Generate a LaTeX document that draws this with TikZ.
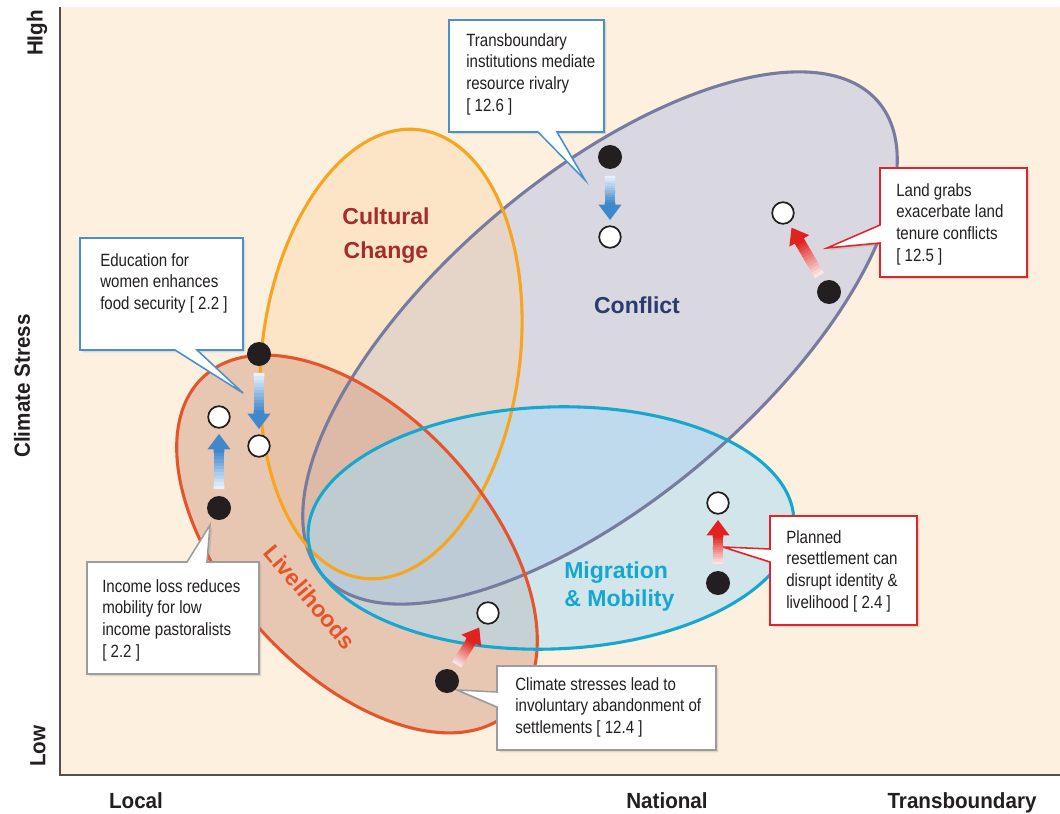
\documentclass[tikz,border=0pt]{standalone}
\usepackage{fontspec}
\setmainfont{Liberation Sans}
\newfontfamily\notefont{Liberation Sans}[FakeStretch=0.85]
\newfontfamily\axisfont{Liberation Sans}[FakeStretch=0.94]
\usetikzlibrary{arrows.meta}
\usetikzlibrary{calc}
\usetikzlibrary{shadows}

\definecolor{paper}{HTML}{FDF0DE}
\definecolor{inkblack}{HTML}{231F20}
\definecolor{axisgrey}{HTML}{505052}
\definecolor{conflictfill}{HTML}{CDD0E3}
\definecolor{conflictline}{HTML}{777B9F}
\definecolor{conflictink}{HTML}{2B3B6E}
\definecolor{culturefill}{HTML}{FAD29A}
\definecolor{cultureline}{HTML}{F7A51E}
\definecolor{cultureink}{HTML}{A32D2A}
\definecolor{livefill}{HTML}{D5A088}
\definecolor{liveline}{HTML}{E5552B}
\definecolor{migratefill}{HTML}{A6DCF8}
\definecolor{migrateline}{HTML}{16A7D0}
\definecolor{noteblue}{HTML}{4A90CD}
\definecolor{notered}{HTML}{E2232A}
\definecolor{notegrey}{HTML}{9C9C9C}
\definecolor{pushblue}{HTML}{3F88CC}
\definecolor{pushred}{HTML}{E0231F}

\tikzset{
  ring/.style={line width=2.2pt},
  areafont/.style={font=\bfseries\fontsize{16.4}{23.5}\selectfont, inner sep=0pt},
  axislabel/.style={font=\axisfont\bfseries\fontsize{15.6}{18}\selectfont, text=inkblack},
  note/.style={fill=white, line width=1.1pt,
    drop shadow={opacity=0.22, shadow xshift=1.6pt, shadow yshift=-1.6pt}},
  notetext/.style={font=\notefont\fontsize{12.6}{15.4}\selectfont, text=inkblack,
    align=left, anchor=north west, inner sep=0pt},
  startdot/.style={circle, fill=inkblack, minimum size=0.6cm, inner sep=0pt},
  enddot/.style={circle, draw=inkblack, fill=white, line width=1.2pt,
    minimum size=0.54cm, inner sep=0pt},
}

% thick arrow that fades out towards its tail
\newcommand{\shiftarrow}[3]{%
  \coordinate (sa-s) at ($(#2)!13.5pt!(#3)$);
  \coordinate (sa-t) at ($(#3)!12pt!(#2)$);
  \coordinate (sa-e) at ($(#3)!23pt!(#2)$);
  \foreach \k in {0,...,11}{
    \pgfmathtruncatemacro{\tint}{12+\k*8}
    \draw[line width=7.5pt, #1!\tint!white]
      ($(sa-s)!{\k/12}!(sa-e)$) -- ($(sa-s)!{(\k+1.15)/12}!(sa-e)$);
  }
  \draw[#1, line width=7.5pt, -{Triangle[width=15.6pt,length=11pt]}]
    ($(sa-e)!-0.5pt!(sa-t)$) -- (sa-t);
}

\begin{document}
\begin{tikzpicture}[x=0.025cm, y=-0.025cm]
    \useasboundingbox (0,0) rectangle (1060,814);
    \fill[paper] (60,7) rectangle (1060,775);

    % the four areas
    \path[fill=conflictfill, fill opacity=0.75, rotate around={40.3:(600,338)}]
      (600,338) ellipse [x radius=365, y radius=161];
    \path[fill=culturefill, fill opacity=0.35, rotate around={-7.2:(391,354)}]
      (391,354) ellipse [x radius=129, y radius=226];
    \path[fill=livefill, fill opacity=0.5, rotate around={-47.6:(357,544)}]
      (357,544) ellipse [x radius=227, y radius=129];
    \path[fill=migratefill, fill opacity=0.5, rotate around={2:(551,528)}]
      (551,528) ellipse [x radius=243, y radius=121];

    \draw[ring, conflictline, rotate around={40.3:(600,338)}]
      (600,338) ellipse [x radius=365, y radius=161];
    \draw[ring, cultureline, rotate around={-7.2:(391,354)}]
      (391,354) ellipse [x radius=129, y radius=226];
    \draw[ring, liveline, rotate around={-47.6:(357,544)}]
      (357,544) ellipse [x radius=227, y radius=129];
    \draw[ring, migrateline, rotate around={2:(551,528)}]
      (551,528) ellipse [x radius=243, y radius=121];

    \node[areafont, text=cultureink, align=center, anchor=north] (culture) at (386,208) {Cultural\\Change};
    \node[areafont, text=conflictink, anchor=north] (conflict) at (637,297) {Conflict};
    \node[areafont, text=migrateline, align=left, anchor=north west,
      font=\bfseries\fontsize{16.4}{19.9}\selectfont] (migration) at (564,562) {Migration\\\& Mobility};
    \node[areafont, text=liveline, rotate=-50] (livelihoods) at (310,597) {Livelihoods};

    % axes
    \draw[axisgrey, line width=2pt] (60,7) -- (60,775) -- (1060,775);
    \node[axislabel, rotate=90] (high) at (37,33) {HIgh};
    \node[axislabel, rotate=90] (low) at (38,746) {Low};
    \node[axislabel, rotate=90] (stress) at (22,386) {Climate Stress};
    \node[axislabel, anchor=north, inner sep=0pt] (local) at (136,792) {Local};
    \node[axislabel, anchor=north, inner sep=0pt] (national) at (667,792) {National};
    \node[axislabel, anchor=north, inner sep=0pt] (transb) at (962,792) {Transboundary};

    % callouts
    \coordinate (tipinst) at (585,180);
    \draw[note, draw=noteblue] (449,20) -- (604,20) -- (604,132) -- (557,132)
      -- (tipinst) -- (538,132) -- (449,132) -- cycle;
    \node[notetext] (noteinst) at (466,33) {Transboundary\\institutions mediate\\resource rivalry\\{[} 12.6 ]};

    \coordinate (tipedu) at (243,393);
    \draw[note, draw=noteblue] (80,238) -- (243,238) -- (243,350) -- (197,350)
      -- (tipedu) -- (175,350) -- (80,350) -- cycle;
    \node[notetext] (noteedu) at (100,253) {Education for\\women enhances\\food security [ 2.2 ]};

    \coordinate (tipinc) at (210,525);
    \draw[note, draw=notegrey] (87,562) -- (187,562) -- (tipinc) -- (207,562)
      -- (259,562) -- (259,674) -- (87,674) -- cycle;
    \node[notetext] (noteinc) at (102,579) {Income loss reduces\\mobility for low\\income pastoralists\\{[} 2.2 ]};

    \coordinate (tipland) at (827,248);
    \draw[note, draw=notered] (880,168) -- (1027,168) -- (1027,277) -- (880,277)
      -- (880,243) -- (tipland) -- (880,225) -- cycle;
    \node[notetext] (noteland) at (896,183) {Land grabs\\exacerbate land\\tenure conflicts\\{[} 12.5 ]};

    \coordinate (tipplan) at (723,547);
    \draw[note, draw=notered] (770,516) -- (917,516) -- (917,625) -- (770,625)
      -- (770,562) -- (tipplan) -- (770,549) -- cycle;
    \node[notetext] (noteplan) at (786,530) {Planned\\resettlement can\\disrupt identity \&\\livelihood [ 2.4 ]};

    \coordinate (tipclim) at (457,690);
    \draw[note, draw=notegrey] (497,666) -- (716,666) -- (716,750) -- (497,750)
      -- (497,707) -- (tipclim) -- (497,692) -- cycle;
    \node[notetext] (noteclim) at (515,677) {Climate stresses lead to\\involuntary abandonment of\\settlements [ 12.4 ]};

    % before and after
    \node[startdot] (insta) at (610,157) {};
    \node[enddot] (instb) at (610,237) {};
    \node[startdot] (landa) at (829,292) {};
    \node[enddot] (landb) at (783,213) {};
    \node[startdot] (edua) at (259,354) {};
    \node[enddot] (edub) at (259,446) {};
    \node[startdot] (inca) at (219,508) {};
    \node[enddot] (incb) at (219,417) {};
    \node[startdot] (plana) at (718,583) {};
    \node[enddot] (planb) at (718,503) {};
    \node[startdot] (clima) at (447,681) {};
    \node[enddot] (climb) at (488,613) {};

    \shiftarrow{pushblue}{insta}{instb}
    \shiftarrow{pushred}{landa}{landb}
    \shiftarrow{pushblue}{edua}{edub}
    \shiftarrow{pushblue}{inca}{incb}
    \shiftarrow{pushred}{plana}{planb}
    \shiftarrow{pushred}{clima}{climb}
\end{tikzpicture}
\end{document}
